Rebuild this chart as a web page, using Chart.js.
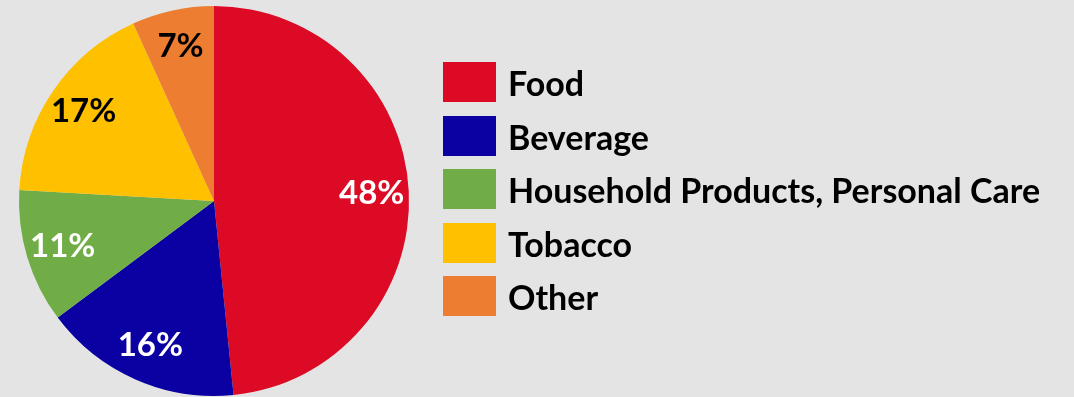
<!DOCTYPE html>
<html>
<head>
<meta charset="utf-8">
<script src="https://cdn.jsdelivr.net/npm/chart.js@4"></script>
<style>
  html, body { margin:0; padding:0; background:#e4e4e4; }
  #wrap { position:relative; width:1074px; height:397px; overflow:hidden; }
  #chart { position:absolute; left:0; top:0; }
  #legend { position:absolute; left:443px; top:62px; font-family:Lato, "Open Sans", sans-serif; font-weight:700; font-size:34px; color:#000; }
  .row { display:flex; align-items:center; height:40px; margin-bottom:13.5px; }
  .box { width:53px; height:40px; margin-right:12px; flex:none; }
  .lbl { white-space:nowrap; line-height:40px; position:relative; top:1px; }
</style>
</head>
<body>
<div id="wrap">
  <canvas id="chart" width="1074" height="397"></canvas>
  <div id="legend"></div>
</div>
<script>
const categories = ['Food', 'Beverage', 'Household Products, Personal Care', 'Tobacco', 'Other'];
const shares = [48.4, 16.4, 11.1, 17.3, 6.8];
const colors = ['#dc0a25', '#0b00a2', '#70ad47', '#ffc000', '#ed7d31'];
const labelColors = ['#ffffff', '#ffffff', '#ffffff', '#000000', '#000000'];

// percentage labels inside the slices
const sliceLabels = {
  id: 'sliceLabels',
  afterDatasetsDraw(chart){
    const ctx = chart.ctx;
    const meta = chart.getDatasetMeta(0);
    const total = shares.reduce((a,b)=>a+b, 0);
    ctx.save();
    ctx.font = 'bold 33px Lato, "Open Sans", sans-serif';
    ctx.textAlign = 'center';
    ctx.textBaseline = 'middle';
    meta.data.forEach((arc, i) => {
      const p = arc.getProps(['x','y','startAngle','endAngle','outerRadius'], true);
      const mid = (p.startAngle + p.endAngle) / 2;
      const r = p.outerRadius * 0.81;
      ctx.fillStyle = labelColors[i];
      ctx.fillText(Math.round(shares[i] / total * 100) + '%', p.x + Math.cos(mid)*r, p.y + Math.sin(mid)*r);
    });
    ctx.restore();
  }
};

new Chart(document.getElementById('chart'), {
  type: 'pie',
  data: {
    labels: categories,
    datasets: [{ data: shares, backgroundColor: colors, borderWidth: 0 }]
  },
  options: {
    responsive: false,
    animation: false,
    layout: { padding: { left: 19, top: 6, bottom: 1, right: 665 } },
    plugins: { legend: { display: false }, tooltip: { enabled: false } }
  },
  plugins: [sliceLabels]
});

// legend
const legend = document.getElementById('legend');
categories.forEach((c, i) => {
  const row = document.createElement('div');
  row.className = 'row';
  row.innerHTML = `<div class="box" style="background:${colors[i]}"></div><div class="lbl">${c}</div>`;
  legend.appendChild(row);
});
</script>
</body>
</html>
